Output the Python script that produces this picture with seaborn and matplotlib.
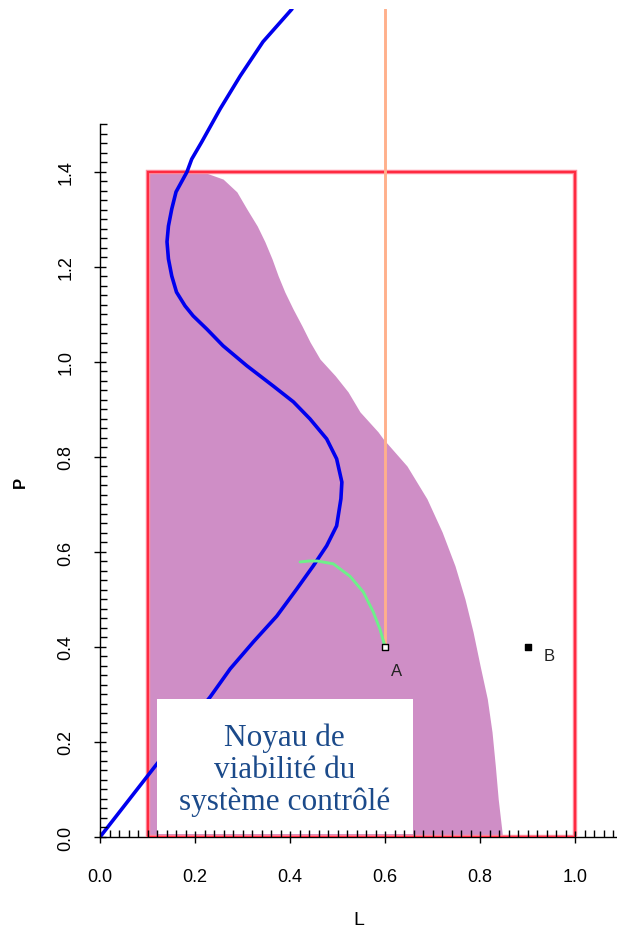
import matplotlib as mpl
mpl.use('Agg')
import matplotlib.pyplot as plt
import matplotlib.ticker as mticker
from matplotlib.patches import Rectangle
import numpy as np
import pandas as pd
import seaborn as sns

# viability kernel boundary (right edge of the purple region)
kernel_P = [0.0, 0.011, 0.080, 0.149, 0.221, 0.291, 0.360, 0.432, 0.501, 0.571,
            0.642, 0.712, 0.781, 0.838, 0.853, 0.895, 0.937, 0.971, 1.006, 1.042,
            1.076, 1.112, 1.147, 1.181, 1.217, 1.253, 1.286, 1.322, 1.358, 1.385, 1.400]
kernel_L = [0.847, 0.846, 0.838, 0.832, 0.825, 0.815, 0.800, 0.785, 0.768, 0.747,
            0.720, 0.688, 0.646, 0.596, 0.585, 0.547, 0.522, 0.495, 0.463, 0.442,
            0.425, 0.406, 0.389, 0.375, 0.362, 0.347, 0.331, 0.309, 0.288, 0.259, 0.217]
kernel_left = 0.1

# constraint set K
K_L = (0.1, 1.0)
K_P = (0.0, 1.4)

# blue curve
blue_L = [0.0, 0.116, 0.232, 0.274, 0.323, 0.372, 0.414, 0.449, 0.477, 0.498,
          0.507, 0.509, 0.498, 0.477, 0.442, 0.407, 0.365, 0.309, 0.259, 0.225,
          0.196, 0.179, 0.161, 0.151, 0.144, 0.141, 0.144, 0.151, 0.160, 0.183,
          0.193, 0.214, 0.253, 0.295, 0.343, 0.404]
blue_P = [0.0, 0.149, 0.295, 0.354, 0.411, 0.465, 0.522, 0.571, 0.613, 0.655,
          0.712, 0.747, 0.796, 0.838, 0.880, 0.916, 0.949, 0.992, 1.034, 1.069,
          1.097, 1.118, 1.147, 1.181, 1.217, 1.253, 1.286, 1.322, 1.358, 1.400,
          1.427, 1.463, 1.533, 1.602, 1.674, 1.743]

# green trajectory from A
green_L = [0.421, 0.440, 0.457, 0.491, 0.526, 0.554, 0.575, 0.589, 0.600]
green_P = [0.579, 0.581, 0.581, 0.575, 0.549, 0.516, 0.474, 0.438, 0.400]

# orange vertical line from A
orange_L = [0.6, 0.6]
orange_P = [0.4, 1.743]

# points
pt_names = ['A', 'B']
pt_L = [0.6, 0.9]
pt_P = [0.4, 0.4]

x_ticks = [0.0, 0.2, 0.4, 0.6, 0.8, 1.0]
y_ticks = [0.0, 0.2, 0.4, 0.6, 0.8, 1.0, 1.2, 1.4]

box_text = 'Noyau de\nviabilité du\nsystème contrôlé'

sns.set_style('ticks')
plt.rcParams['font.family'] = ['Liberation Sans', 'DejaVu Sans']

fig = plt.figure(figsize=(6.17, 9.28), dpi=100)
ax = fig.add_axes([100/617, 90/928, 517/617, 828/928])
ax.set_xlim(0, 1.088)
ax.set_ylim(0, 1.743)

# kernel
ax.fill_betweenx(kernel_P, kernel_left, kernel_L, color='#cf8ec6', linewidth=0, zorder=1)

# constraint rectangle
ax.add_patch(Rectangle((K_L[0], K_P[0]), K_L[1]-K_L[0], K_P[1]-K_P[0],
                       fill=False, edgecolor='#ff8fa0', linewidth=3.2, zorder=3))
ax.add_patch(Rectangle((K_L[0], K_P[0]), K_L[1]-K_L[0], K_P[1]-K_P[0],
                       fill=False, edgecolor='#ff2a40', linewidth=1.6, zorder=3))

line_kw = dict(ax=ax, sort=False, estimator=None, legend=False, zorder=4)
sns.lineplot(x=orange_L, y=orange_P, color='#ffb08c', linewidth=2.1, **line_kw)
sns.lineplot(x=blue_L, y=blue_P, color='#0000ee', linewidth=2.6, **line_kw)
sns.lineplot(x=green_L, y=green_P, color='#6ef08a', linewidth=2.1, **line_kw)

pts = pd.DataFrame({'L': pt_L, 'P': pt_P, 'name': pt_names})
ax.scatter(pts['L'][:1], pts['P'][:1], marker='s', s=14, facecolor='white',
           edgecolor='black', linewidth=1, zorder=5)
ax.scatter(pts['L'][1:], pts['P'][1:], marker='s', s=16, color='black', zorder=5)
ax.text(0.625, 0.351, 'A', fontsize=12, color='#222222', ha='center', va='center', zorder=5)
ax.text(0.945, 0.383, 'B', fontsize=12, color='#222222', ha='center', va='center', zorder=5)

# label box
ax.add_patch(Rectangle((0.12, 0.006), 0.539, 0.285, facecolor='white', edgecolor='none', zorder=6))
ax.text(0.389, 0.143, box_text, fontsize=22.5, family='Liberation Serif', color='#1b4a8a',
        ha='center', va='center', linespacing=1.12, zorder=7)

# axes styling
sns.despine(ax=ax)
ax.spines['left'].set_bounds(0, 1.5)
ax.spines['bottom'].set_bounds(0, 1.088)
for s in ['left', 'bottom']:
    ax.spines[s].set_color('black')
    ax.spines[s].set_linewidth(1)
    ax.spines[s].set_zorder(2)
# ticks drawn over the kernel and the constraint rectangle
ax.xaxis.set_zorder(6.5)
ax.yaxis.set_zorder(6.5)

ax.xaxis.set_major_locator(mticker.FixedLocator(x_ticks))
ax.yaxis.set_major_locator(mticker.FixedLocator(y_ticks))
ax.xaxis.set_minor_locator(mticker.FixedLocator(np.arange(0, 1.081, 0.02)))
ax.yaxis.set_minor_locator(mticker.FixedLocator(np.arange(0, 1.501, 0.02)))
ax.xaxis.set_major_formatter(mticker.FormatStrFormatter('%.1f'))
ax.yaxis.set_major_formatter(mticker.FormatStrFormatter('%.1f'))
ax.tick_params(which='major', direction='inout', length=9, width=1, color='black',
               labelsize=13, labelcolor='black')
ax.tick_params(axis='x', which='major', pad=18)
ax.tick_params(axis='y', which='major', pad=14)
ax.tick_params(which='minor', direction='in', length=5, width=1, color='black')
plt.setp(ax.get_yticklabels(), rotation=90, va='center')

ax.set_xlabel('L', fontsize=14, color='black')
ax.set_ylabel('P', fontsize=12, fontweight='bold', color='black')
ax.xaxis.set_label_coords(0.5, -0.089)
ax.yaxis.set_label_coords(-0.139, 0.43)

plt.savefig('out.png', dpi=100)
